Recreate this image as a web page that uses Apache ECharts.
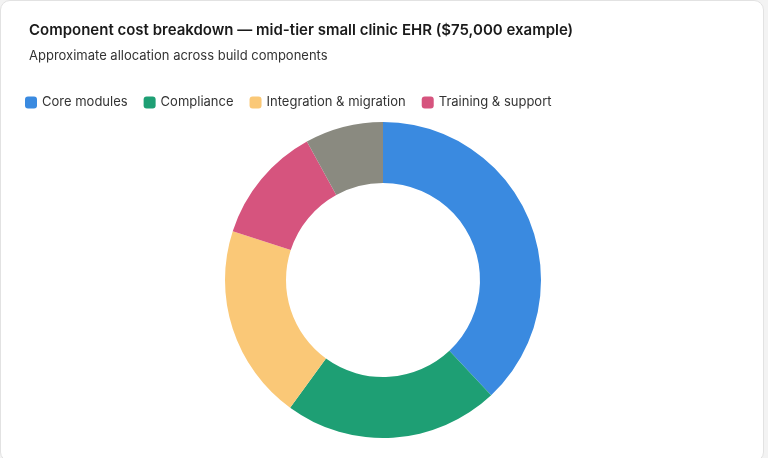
<!DOCTYPE html>
<html><head><meta charset="utf-8">
<script src="https://cdn.jsdelivr.net/npm/echarts@6/dist/echarts.min.js"></script>
<style>
html,body{margin:0;padding:0;background:#f3f3f3;}
#card{position:absolute;left:0;top:0;width:764px;height:462px;background:#fff;border:1px solid #e2e2e2;border-radius:10px;box-sizing:border-box;}
#c{position:absolute;left:0;top:0;width:768px;height:458px;}
</style></head><body>
<div id="card"></div><div id="c"></div>
<script>
const categories = ["Core modules","Compliance","Integration & migration","Training & support","Other"];
const values = [28500,16500,15000,9000,6000];
const colors = ["#3a8ae0","#1e9f74","#fac877","#d6547e","#8a8a80"];
const chart = echarts.init(document.getElementById('c'));
chart.setOption({
  title:{text:"Component cost breakdown — mid-tier small clinic EHR ($75,000 example)",
    subtext:"Approximate allocation across build components",left:24,top:18,itemGap:12,
    textStyle:{fontFamily:"Inter",fontSize:15,fontWeight:600,color:"#1a1a1a"},
    subtextStyle:{fontFamily:"Inter",fontSize:13,color:"#333"}},
  legend:{data:categories.slice(0,4),left:20,top:91,icon:"roundRect",itemWidth:12,itemHeight:12,itemGap:16,
    textStyle:{fontFamily:"Inter",fontSize:13,color:"#333"}},
  series:[{type:"pie",center:[383,280],radius:[97,158],startAngle:90,clockwise:true,
    label:{show:false},labelLine:{show:false},
    itemStyle:{borderColor:"#fff",borderWidth:0},
    data:categories.map((n,i)=>({name:n,value:values[i],itemStyle:{color:colors[i]}}))}]
});
</script></body></html>
